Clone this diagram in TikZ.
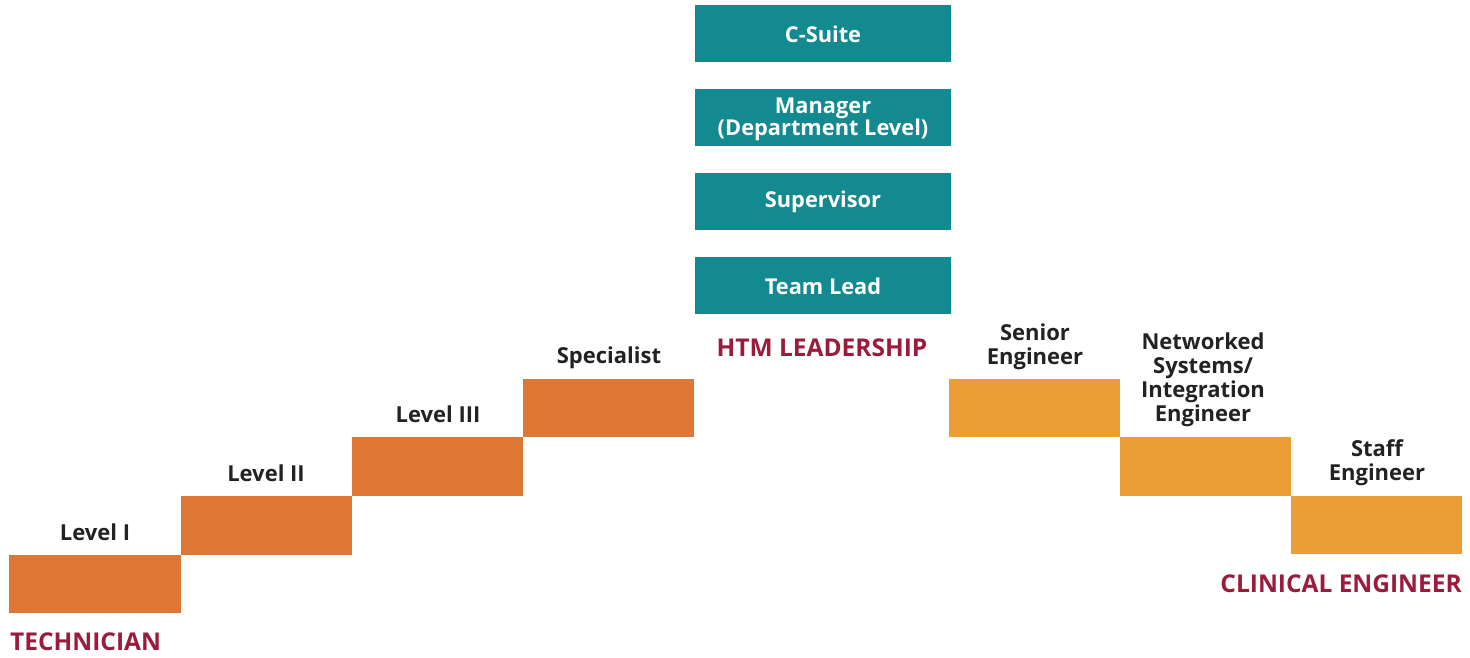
\documentclass[tikz,border=0pt]{standalone}
\usepackage{fontspec}
\setmainfont{Open Sans}
\definecolor{teal1}{HTML}{128A8F}
\definecolor{org1}{HTML}{DE7733}
\definecolor{org2}{HTML}{EC9D36}
\definecolor{maroon1}{HTML}{9B1B3A}
\definecolor{txt}{HTML}{222222}
\begin{document}
\begin{tikzpicture}[x=1pt,y=-1pt,
  lead/.style={fill=teal1,draw=none,text=white,font=\bfseries\fontsize{21.8}{22}\selectfont,align=center,inner sep=0pt},
  lbl/.style={text=txt,font=\bfseries\fontsize{22}{24}\selectfont,align=center,inner sep=0pt},
  cat/.style={text=maroon1,font=\bfseries\fontsize{24.5}{26}\selectfont,inner sep=0pt}]
\useasboundingbox (0,0) rectangle (1470,658);
% leadership boxes
\fill[teal1] (695,5) rectangle (951,62);
\node[lead] (cs) at (823,34) {C-Suite};
\fill[teal1] (695,89) rectangle (951,146);
\node[lead] (mg) at (823,119) {Manager\\(Department Level)};
\fill[teal1] (695,173) rectangle (951,230);
\node[lead] (sv) at (823,202) {Supervisor};
\fill[teal1] (695,257) rectangle (951,314);
\node[lead] (tl) at (823,286) {Team Lead};
\node[cat] (htm) at (822,348) {HTM LEADERSHIP};
% technician steps
\fill[org1] (9,555) rectangle (181,613);
\fill[org1] (181,496) rectangle (352,555);
\fill[org1] (352,437) rectangle (523,496);
\fill[org1] (523,379) rectangle (694,437);
\node[lbl] (l1) at (95,532) {Level I};
\node[lbl] (l2) at (266,473) {Level II};
\node[lbl] (l3) at (438,414) {Level III};
\node[lbl] (sp) at (609,358) {Specialist};
\node[cat,anchor=west] (tech) at (10,642) {TECHNICIAN};
% clinical engineer steps
\fill[org2] (949,379) rectangle (1120,437);
\fill[org2] (1120,437) rectangle (1291,496);
\fill[org2] (1291,496) rectangle (1462,554);
\node[lbl] (se) at (1035,347) {Senior\\Engineer};
\node[lbl] (ne) at (1203,380) {Networked\\Systems/\\Integration\\Engineer};
\node[lbl] (st) at (1377,463) {Staff\\Engineer};
\node[cat,anchor=east] (ce) at (1462,584) {CLINICAL ENGINEER};
\end{tikzpicture}
\end{document}
